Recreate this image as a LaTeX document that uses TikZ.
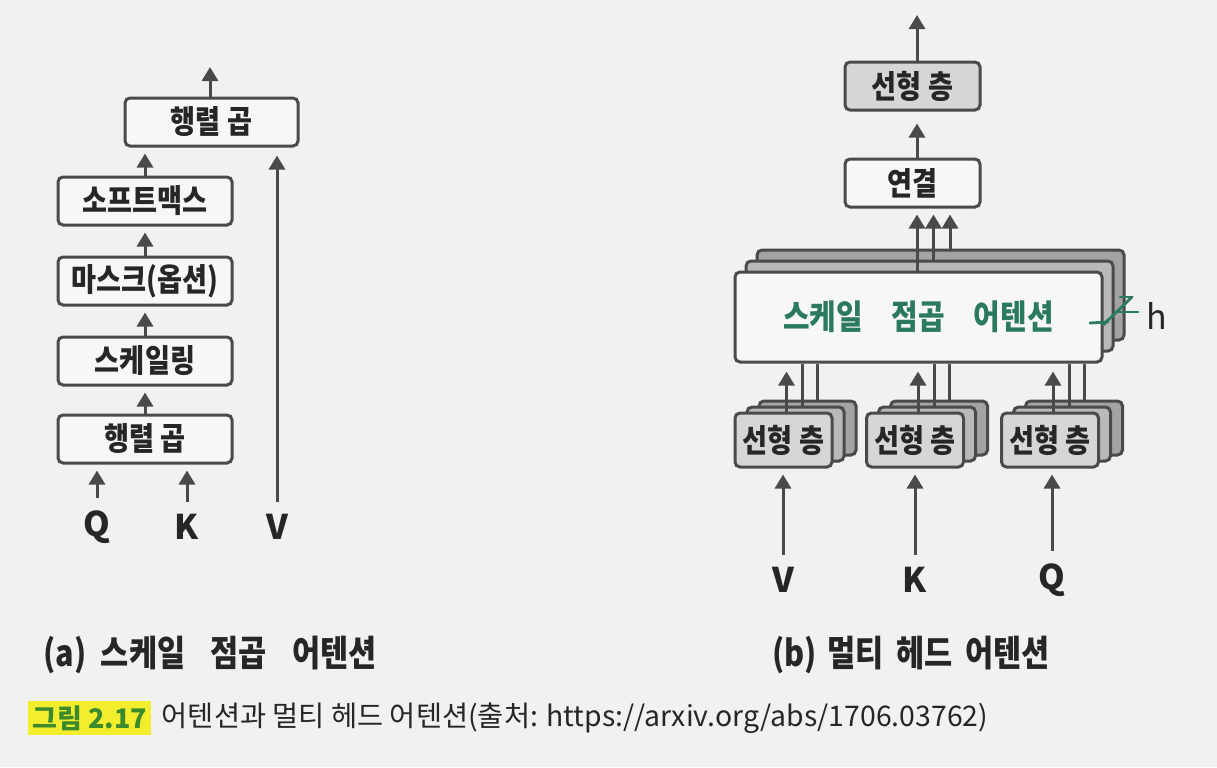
\documentclass[tikz,border=0pt]{standalone}
\usepackage{fontspec}
\setmainfont{Noto Sans CJK KR}
\newfontfamily\kfont{Noto Sans CJK KR}[FakeStretch=0.85]
\usetikzlibrary{arrows.meta}
\definecolor{paper}{HTML}{F1F1EF}
\definecolor{boxfill}{HTML}{F7F7F5}
\definecolor{edge}{HTML}{4A4A4A}
\definecolor{linfill}{HTML}{D6D6D6}
\definecolor{backA}{HTML}{B9B9B9}
\definecolor{backB}{HTML}{A3A3A3}
\definecolor{attgreen}{HTML}{2B7A5F}
\definecolor{capgreen}{HTML}{3C8A2C}
\definecolor{hl}{HTML}{F2EE2E}
\tikzset{
  box/.style={draw=edge, line width=1.5pt, rounded corners=2.5pt, fill=boxfill, inner sep=0pt,
    text=black!85, font=\kfont\bfseries\fontsize{16}{18}\selectfont},
  wbox/.style={box, minimum width=87pt, minimum height=24pt},
  lbox/.style={box, fill=linfill, minimum width=67.5pt, minimum height=24pt},
  sbox/.style={box, fill=linfill, minimum width=48.5pt, minimum height=27pt},
  sback/.style={box, minimum width=48.5pt, minimum height=27pt},
  attbox/.style={box, minimum width=183.5pt, minimum height=45pt},
  arr/.style={draw=edge, line width=1.5pt, -{Triangle[width=8pt,length=7pt]}},
  plain/.style={draw=edge, line width=1.5pt},
  lab/.style={inner sep=0pt, text=black!85, font=\bfseries\fontsize{17}{19}\selectfont},
  captext/.style={inner sep=0pt, text=black!85, font=\kfont\bfseries\fontsize{18}{20}\selectfont},
  hmark/.style={draw=attgreen, line width=1.4pt, line cap=round}
}
\begin{document}
\begin{tikzpicture}[x=0.5pt,y=-0.5pt]
\fill[paper] (0,0) rectangle (1217,767);
\useasboundingbox (0,0) rectangle (1217,767);

% ---------- (a) scaled dot-product attention ----------
\node[wbox, minimum width=86.5pt] (mmB) at (211.5,122) {행렬 곱};
\node[wbox] (soft) at (145,201) {소프트맥스};
\node[wbox] (mask) at (145,281) {마스크(옵션)};
\node[wbox] (scal) at (145,361) {스케일링};
\node[wbox] (mmA) at (145,439) {행렬 곱};
\node[lab] (Qa) at (97,527) {Q};
\node[lab] (Ka) at (187,527) {K};
\node[lab] (Va) at (277,527) {V};
\coordinate (outA) at (210,67);

\draw[arr] (outA |- mmB.north) -- (outA);
\draw[arr, shorten >=3pt] (soft.north) -- (soft.north |- mmB.south);
\draw[arr, shorten >=3pt] (mask.north) -- (mask.north |- soft.south);
\draw[arr, shorten >=3pt] (scal.north) -- (scal.north |- mask.south);
\draw[arr, shorten >=3pt] (mmA.north) -- (mmA.north |- scal.south);
\draw[arr, shorten <=6pt, shorten >=3pt] (Qa.north) -- (Qa.north |- mmA.south);
\draw[arr, shorten <=6pt, shorten >=3pt] (Ka.north) -- (Ka.north |- mmA.south);
\draw[arr, shorten <=6pt, shorten >=4pt] (Va.north) -- (Va.north |- mmB.south);

% ---------- (b) multi-head attention ----------
\node[lbox] (linT) at (912.5,86) {선형 층};
\node[box, minimum width=67.5pt, minimum height=24pt] (cat) at (912.5,183) {연결};
\coordinate (outB) at (917,15);
\draw[arr] (outB |- linT.north) -- (outB);
\draw[arr, shorten >=6pt] (outB |- cat.north) -- (outB |- linT.south);

\node[attbox, fill=backB] (att3) at (940.5,295) {};
\node[attbox, fill=backA] (att2) at (929.5,306) {};
\node[attbox, text=attgreen, font=\kfont\bfseries\fontsize{17}{19}\selectfont] (att) at (918.5,317)
  {스케일\hspace{0.85em}점곱\hspace{0.85em}어텐션};

\coordinate (c1) at (917,0);
\coordinate (c2) at (933.5,0);
\coordinate (c3) at (950,0);
\draw[arr, shorten >=3pt] (c1 |- att.north) -- (c1 |- cat.south);
\draw[arr, shorten >=3pt] (c2 |- att2.north) -- (c2 |- cat.south);
\draw[arr, shorten >=3pt] (c3 |- att3.north) -- (c3 |- cat.south);

% h marker
\draw[hmark] (1090,323) -- (1108,322);
\draw[hmark] (1103,325) -- (1132,297);
\draw[hmark] (1120,297) -- (1132,297);
\draw[hmark] (1115,312) -- (1138,312);
\node[inner sep=0pt, text=black!85, font=\fontsize{17}{19}\selectfont] (hlab) at (1157,316) {h};

% linear-layer stacks
\foreach \nm/\cx in {V/783.5, K/915, Q/1050} {
  \node[sback, fill=backB] (\nm3) at (\cx+24,428) {};
  \node[sback, fill=backA] (\nm2) at (\cx+12,434) {};
  \node[sbox] (\nm1) at (\cx,440) {선형 층};
  \coordinate (\nm a) at (\cx+3,0);
  \coordinate (\nm b) at (\cx+19,0);
  \coordinate (\nm c) at (\cx+34,0);
  \draw[arr, shorten >=4pt] (\nm a |- \nm1.north) -- (\nm a |- att.south);
  \draw[plain] (\nm b |- \nm2.north) -- (\nm b |- att.south);
  \draw[plain] (\nm c |- \nm3.north) -- (\nm c |- att.south);
}

\node[lab] (Vb) at (783,580) {V};
\node[lab] (Kb) at (915,580) {K};
\node[lab] (Qb) at (1052,580) {Q};
\draw[arr, shorten <=6pt, shorten >=3pt] (Vb.north) -- (Vb.north |- V1.south);
\draw[arr, shorten <=6pt, shorten >=3pt] (Kb.north) -- (Kb.north |- K1.south);
\draw[arr, shorten <=6pt, shorten >=3pt] (Qb.north) -- (Qb.north |- Q1.south);

% ---------- captions ----------
\node[captext] (capA) at (210,655) {(a)\hspace{0.4em}스케일\hspace{0.7em}점곱\hspace{0.7em}어텐션};
\node[captext] (capB) at (911,655) {(b)\hspace{0.3em}멀티\hspace{0.35em}헤드\hspace{0.35em}어텐션};

\node[anchor=west, fill=hl, text=capgreen, inner sep=2pt,
      font=\bfseries\fontsize{13.5}{15}\selectfont] (fig) at (28,718) {그림 2.17};
\node[anchor=west, inner sep=0pt, text=black!85, font=\fontsize{14.2}{16}\selectfont] (figtxt)
  at ([xshift=5pt]fig.east) {어텐션과 멀티 헤드 어텐션(출처: https://arxiv.org/abs/1706.03762)};
\end{tikzpicture}
\end{document}
